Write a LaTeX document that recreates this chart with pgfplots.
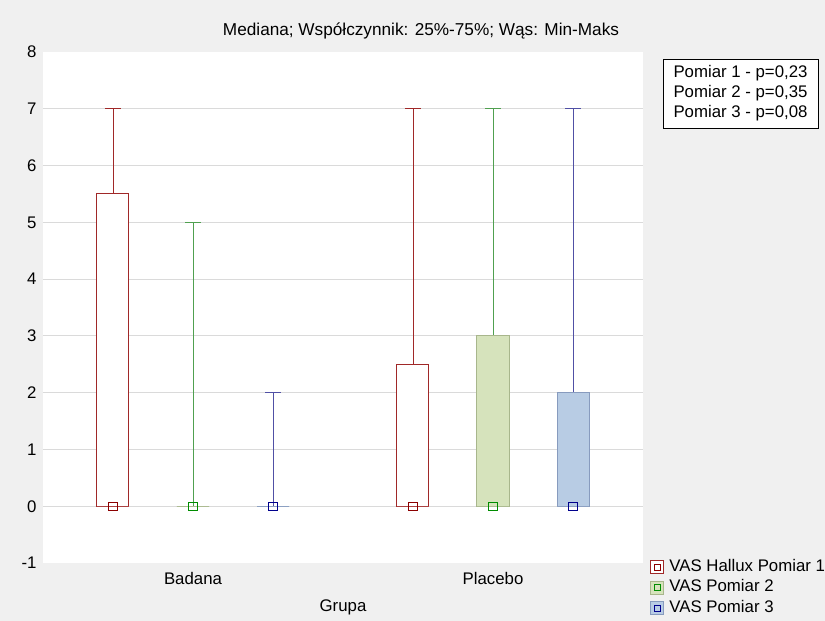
\documentclass[border=0pt]{standalone}
\usepackage{pgfplots}
\pgfplotsset{compat=1.18}
\usepgfplotslibrary{statistics}
\usepackage{fontspec}
\setmainfont{Liberation Sans}

\definecolor{bgGray}{RGB}{240,240,240}
\definecolor{gridGray}{RGB}{218,218,218}
\definecolor{redE}{RGB}{160,40,40}
\definecolor{redM}{RGB}{139,0,0}
\definecolor{greenW}{RGB}{80,160,80}
\definecolor{greenF}{RGB}{214,227,188}
\definecolor{greenE}{RGB}{168,182,140}
\definecolor{greenM}{RGB}{0,140,0}
\definecolor{blueW}{RGB}{80,80,165}
\definecolor{blueF}{RGB}{184,204,228}
\definecolor{blueE}{RGB}{135,155,190}
\definecolor{blueM}{RGB}{0,0,140}

\begin{document}
\begin{tikzpicture}[x=1pt,y=1pt,font=\fontsize{16.8}{20}\selectfont]
\useasboundingbox (0,0) rectangle (825,621);
\fill[bgGray] (0,0) rectangle (825,621);
\begin{axis}[
  at={(43pt,58pt)}, anchor=south west,
  scale only axis, width=600pt, height=511pt,
  xmin=-0.5, xmax=1.5, ymin=-1, ymax=8,
  axis background/.style={fill=white},
  axis line style={draw=none},
  major tick length=0pt,
  xtick={0,1}, xticklabels={Badana,Placebo},
  xticklabel style={yshift=-6pt},
  ytick={0,...,7},
  extra y ticks={-1,8},
  extra y tick style={grid=none},
  yticklabel style={xshift=-3pt},
  ymajorgrids, major grid style={gridGray, line width=0.9pt},
  /pgf/number format/assume math mode=true,
  boxplot/draw direction=y,
  boxplot/box extend=0.1067,
  boxplot/whisker extend=0.0533,
  boxplot/every median/.style={draw=none},
  legend style={at={(axis description cs:1.012,0.012)}, anchor=north west,
    draw=none, fill=none, row sep=0pt, column sep=4pt, inner sep=0pt,
    nodes={inner sep=1pt, text height=13pt, text depth=5.5pt, anchor=west}},
  legend cell align=left,
]
% VAS Hallux Pomiar 1
\addplot[draw=redE, fill=white, line width=1pt, forget plot,
  boxplot/every whisker/.style={draw=redE, line width=0.95pt},
  boxplot prepared={draw position=-0.2667, lower whisker=0, lower quartile=0,
    median=0, upper quartile=5.5, upper whisker=7}] coordinates {};
\addplot[draw=redE, fill=white, line width=1pt, forget plot,
  boxplot/every whisker/.style={draw=redE, line width=0.95pt},
  boxplot prepared={draw position=0.7333, lower whisker=0, lower quartile=0,
    median=0, upper quartile=2.5, upper whisker=7}] coordinates {};
% VAS Pomiar 2
\addplot[draw=greenE, fill=greenF, line width=1pt, forget plot,
  boxplot/every whisker/.style={draw=greenW, line width=0.95pt},
  boxplot prepared={draw position=0, lower whisker=0, lower quartile=0,
    median=0, upper quartile=0, upper whisker=5}] coordinates {};
\addplot[draw=greenE, fill=greenF, line width=1pt, forget plot,
  boxplot/every whisker/.style={draw=greenW, line width=0.95pt},
  boxplot prepared={draw position=1, lower whisker=0, lower quartile=0,
    median=0, upper quartile=3, upper whisker=7}] coordinates {};
% VAS Pomiar 3
\addplot[draw=blueE, fill=blueF, line width=1pt, forget plot,
  boxplot/every whisker/.style={draw=blueW, line width=0.95pt},
  boxplot prepared={draw position=0.2667, lower whisker=0, lower quartile=0,
    median=0, upper quartile=0, upper whisker=2}] coordinates {};
\addplot[draw=blueE, fill=blueF, line width=1pt, forget plot,
  boxplot/every whisker/.style={draw=blueW, line width=0.95pt},
  boxplot prepared={draw position=1.2667, lower whisker=0, lower quartile=0,
    median=0, upper quartile=2, upper whisker=7}] coordinates {};
% medians
\addplot[only marks, mark=square, mark size=4.2pt, draw=redM, line width=1pt, forget plot]
  coordinates {(-0.2667,0) (0.7333,0)};
\addplot[only marks, mark=square, mark size=4.2pt, draw=greenM, line width=1pt, forget plot]
  coordinates {(0,0) (1,0)};
\addplot[only marks, mark=square, mark size=4.2pt, draw=blueM, line width=1pt, forget plot]
  coordinates {(0.2667,0) (1.2667,0)};
% legend
\addlegendimage{legend image code/.code={
  \draw[draw=redE, fill=white, line width=1pt] (0pt,-6.5pt) rectangle (13pt,6.5pt);
  \draw[draw=redM, line width=1pt] (3.5pt,-3pt) rectangle (9.5pt,3pt);}}
\addlegendentry{VAS Hallux Pomiar 1}
\addlegendimage{legend image code/.code={
  \draw[draw=greenE, fill=greenF, line width=1pt] (0pt,-6.5pt) rectangle (13pt,6.5pt);
  \draw[draw=greenM, line width=1pt] (3.5pt,-3pt) rectangle (9.5pt,3pt);}}
\addlegendentry{VAS Pomiar 2}
\addlegendimage{legend image code/.code={
  \draw[draw=blueE, fill=blueF, line width=1pt] (0pt,-6.5pt) rectangle (13pt,6.5pt);
  \draw[draw=blueM, line width=1pt] (3.5pt,-3pt) rectangle (9.5pt,3pt);}}
\addlegendentry{VAS Pomiar 3}
\end{axis}
\node[font=\fontsize{17.2}{20}\selectfont] at (421,590)
  {Mediana; Współczynnik: 25\%-75\%; Wąs: Min-Maks};
\node at (343,14) {Grupa};
\node[draw=black, fill=white, line width=0.8pt, minimum width=155pt, minimum height=69pt,
  align=left, inner sep=0pt] at (740.5,527.5)
  {\baselineskip=21pt Pomiar 1 - p=0,23\\Pomiar 2 - p=0,35\\Pomiar 3 - p=0,08};
\end{tikzpicture}
\end{document}
